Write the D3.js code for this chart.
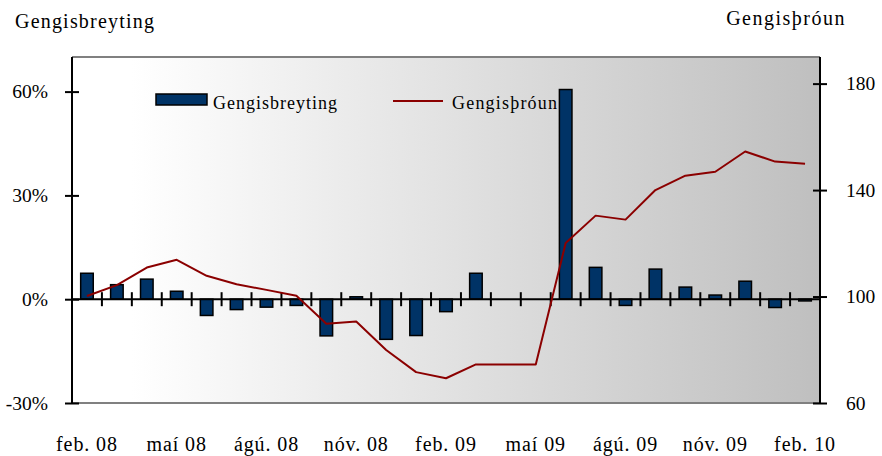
<!DOCTYPE html>
<html>
<head>
<meta charset="utf-8">
<script src="https://cdn.jsdelivr.net/npm/d3@7"></script>
<style>
  html, body { margin: 0; padding: 0; background: #fff; }
  svg { display: block; }
  text { font-family: "Liberation Serif", "Times New Roman", serif; fill: #000; }
</style>
</head>
<body>
<div id="chart"></div>
<script>
// ---- Data ----
const months = ["feb. 08","mar. 08","apr. 08","maí 08","jún. 08","júl. 08","ágú. 08","sep. 08","okt. 08","nóv. 08","des. 08",
  "jan. 09","feb. 09","mar. 09","apr. 09","maí 09","jún. 09","júl. 09","ágú. 09","sep. 09","okt. 09","nóv. 09","des. 09",
  "jan. 10","feb. 10"];
const gengisbreyting = [7.5, 4.2, 5.8, 2.3, -4.7, -3.0, -2.3, -1.8, -10.6, 0.7, -11.6, -10.5, -3.6, 7.5, 0, 0,
  60.6, 9.2, -1.8, 8.7, 3.5, 1.2, 5.2, -2.4, -0.5];
const gengisthroun = [100.2, 104.3, 110.9, 113.8, 107.8, 104.6, 102.5, 100.3, 89.8, 90.6, 79.9, 71.6, 69.3, 74.5, 74.5, 74.5,
  120.1, 130.4, 128.9, 140.0, 145.4, 146.9, 154.5, 150.7, 149.9];
const xLabelMonths = ["feb. 08","maí 08","ágú. 08","nóv. 08","feb. 09","maí 09","ágú. 09","nóv. 09","feb. 10"];
const leftTicks = [-30, 0, 30, 60];
const rightTicks = [60, 100, 140, 180];
const seriesNames = ["Gengisbreyting", "Gengisþróun"];

// ---- Layout ----
const W = 882, H = 456;
const plot = { left: 72, right: 820, top: 57, bottom: 403 };
const barColor = "#003366";
const lineColor = "#8b0000";

const svg = d3.select("#chart").append("svg").attr("width", W).attr("height", H);

const x = d3.scaleBand().domain(months).range([plot.left, plot.right]).padding(0);
const yL = d3.scaleLinear().domain([-30, 70]).range([plot.bottom, plot.top]);
const yR = d3.scaleLinear().domain([60, 190]).range([plot.bottom, plot.top]);

// gradient background
const defs = svg.append("defs");
const grad = defs.append("linearGradient").attr("id", "bg").attr("x1", "0%").attr("x2", "100%").attr("y1", "0%").attr("y2", "0%");
grad.append("stop").attr("offset", "0%").attr("stop-color", "#ffffff");
grad.append("stop").attr("offset", "8%").attr("stop-color", "#ffffff");
grad.append("stop").attr("offset", "100%").attr("stop-color", "#bfbfbf");

svg.append("rect").attr("x", plot.left).attr("y", plot.top)
  .attr("width", plot.right - plot.left).attr("height", plot.bottom - plot.top)
  .attr("fill", "url(#bg)");
svg.append("line").attr("x1", plot.left).attr("x2", plot.right).attr("y1", plot.top).attr("y2", plot.top)
  .attr("stroke", "#808080").attr("stroke-width", 2);
svg.append("line").attr("x1", plot.left).attr("x2", plot.right).attr("y1", plot.bottom).attr("y2", plot.bottom)
  .attr("stroke", "#808080").attr("stroke-width", 2);

// bars
const bw = x.bandwidth() * 0.42;
svg.append("g").selectAll("rect").data(months.map((m, i) => ({ m, v: gengisbreyting[i] })).filter(d => d.v !== 0))
  .join("rect")
  .attr("x", d => x(d.m) + x.bandwidth() / 2 - bw / 2)
  .attr("y", d => yL(Math.max(0, d.v)))
  .attr("width", bw)
  .attr("height", d => Math.abs(yL(d.v) - yL(0)))
  .attr("fill", barColor).attr("stroke", "#000").attr("stroke-width", 1.5);

// zero axis line with cross ticks
const zeroY = yL(0);
svg.append("line").attr("x1", plot.left).attr("x2", plot.right).attr("y1", zeroY).attr("y2", zeroY)
  .attr("stroke", "#000").attr("stroke-width", 2);
svg.append("g").selectAll("line").data(months.slice(1)).join("line")
  .attr("x1", d => x(d)).attr("x2", d => x(d))
  .attr("y1", zeroY - 7).attr("y2", zeroY + 7)
  .attr("stroke", "#000").attr("stroke-width", 2);

// line series
const line = d3.line().x((d, i) => x(months[i]) + x.bandwidth() / 2).y(d => yR(d));
svg.append("path").datum(gengisthroun).attr("d", line)
  .attr("fill", "none").attr("stroke", lineColor).attr("stroke-width", 2).attr("stroke-linejoin", "round");

// axes
const tickStyle = (g, size, spacing) => g.selectAll(".tick text")
  .style("font-family", '"Liberation Serif", serif').style("font-size", size + "px")
  .style("letter-spacing", spacing + "px").attr("fill", "#000");

const gL = svg.append("g").attr("transform", `translate(${plot.left},0)`)
  .call(d3.axisLeft(yL).tickValues(leftTicks).tickSize(7).tickPadding(17).tickFormat(d => d + "%"));
svg.append("g").attr("transform", `translate(${plot.left},0)`)
  .call(d3.axisLeft(yL).tickValues(leftTicks).tickSize(-7).tickFormat(""))
  .call(g => g.select(".domain").remove());
const gR = svg.append("g").attr("transform", `translate(${plot.right},0)`)
  .call(d3.axisRight(yR).tickValues(rightTicks).tickSize(7).tickPadding(19).tickFormat(d3.format("d")));
svg.append("g").attr("transform", `translate(${plot.right},0)`)
  .call(d3.axisRight(yR).tickValues(rightTicks).tickSize(-7).tickFormat(""))
  .call(g => g.select(".domain").remove());
[gL, gR].forEach(g => {
  g.select(".domain").attr("stroke", "#000").attr("stroke-width", 2)
    .attr("d", `M0,${plot.top}V${plot.bottom}`);
  tickStyle(g, 19.5, 0);
});
svg.selectAll(".tick line").attr("stroke", "#000").attr("stroke-width", 2);

const gX = svg.append("g").attr("transform", `translate(0,${plot.bottom})`)
  .call(d3.axisBottom(x).tickValues(xLabelMonths).tickSize(0).tickPadding(34));
gX.select(".domain").remove();
tickStyle(gX, 20, 0.9);

// axis titles
svg.append("text").attr("x", 15).attr("y", 28).style("font-size", "20px").style("letter-spacing", "1.2px").text(seriesNames[0]);
svg.append("text").attr("x", 846).attr("y", 25).attr("text-anchor", "end").style("font-size", "20px").style("letter-spacing", "1.5px").text(seriesNames[1]);

// legend
const lg = svg.append("g");
lg.append("rect").attr("x", 156).attr("y", 94).attr("width", 51).attr("height", 11)
  .attr("fill", barColor).attr("stroke", "#000").attr("stroke-width", 1.5);
lg.append("text").attr("x", 213).attr("y", 109).style("font-size", "18px").style("letter-spacing", "1px").text(seriesNames[0]);
lg.append("line").attr("x1", 393).attr("x2", 443).attr("y1", 101).attr("y2", 101)
  .attr("stroke", lineColor).attr("stroke-width", 2);
lg.append("text").attr("x", 452).attr("y", 109).style("font-size", "18px").style("letter-spacing", "1.2px").text(seriesNames[1]);
</script>
</body>
</html>
